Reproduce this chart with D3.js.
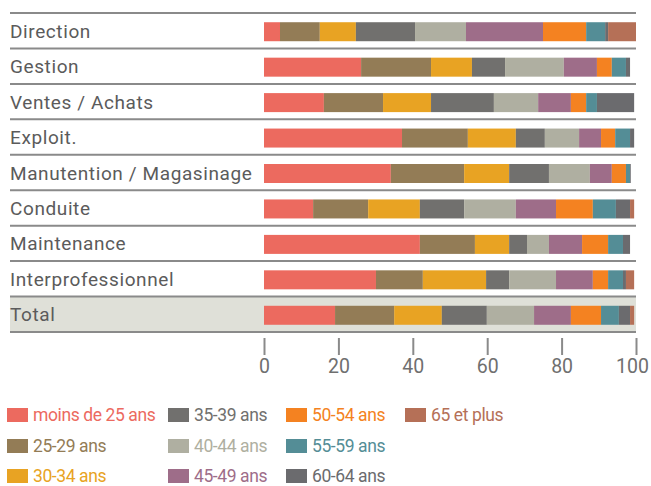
<!DOCTYPE html>
<html>
<head>
<meta charset="utf-8">
<script src="https://cdn.jsdelivr.net/npm/d3@7"></script>
<style>
  body { margin: 0; background: #fff; }
  text { font-family: Roboto, "Noto Sans", sans-serif; }
</style>
</head>
<body>
<div id="vis"></div>
<script>
const categories = ["Direction", "Gestion", "Ventes / Achats", "Exploit.", "Manutention / Magasinage",
  "Conduite", "Maintenance", "Interprofessionnel", "Total"];
const ageGroups = ["moins de 25 ans", "25-29 ans", "30-34 ans", "35-39 ans", "40-44 ans",
  "45-49 ans", "50-54 ans", "55-59 ans", "60-64 ans", "65 et plus"];
const colors = ["#ec6a5f", "#937c56", "#e8a323", "#71706e", "#afafa1",
  "#9e6d89", "#f48221", "#548d96", "#6b6b6e", "#b57057"];

// share of each age group per category (%)
const direction      = [4.3, 10.7, 9.7, 15.9, 13.7, 20.7, 11.6, 5.1, 0.8, 7.5];
const gestion        = [26.1, 18.8, 11.0, 8.9, 15.8, 8.9, 4.0, 3.8, 1.1, 0];
const ventes         = [16.1, 15.9, 12.9, 16.9, 11.9, 8.8, 4.1, 2.9, 10.0, 0];
const exploit        = [37.1, 17.7, 12.9, 7.8, 9.2, 5.9, 3.8, 4.0, 1.1, 0];
const manutention    = [34.1, 19.7, 12.1, 10.7, 11.0, 5.9, 3.8, 1.1, 0.2, 0];
const conduite       = [13.2, 14.8, 13.9, 11.9, 13.9, 10.8, 9.9, 6.2, 3.8, 1.1];
const maintenance    = [41.9, 14.8, 9.2, 4.8, 5.9, 8.9, 7.0, 4.0, 1.9, 0];
const interpro       = [30.1, 12.6, 17.0, 6.2, 12.6, 9.9, 4.1, 4.0, 0.8, 2.2];
const total          = [19.1, 15.9, 12.8, 12.1, 12.7, 9.9, 8.1, 4.8, 3.0, 1.1];
const seriesValues = [direction, gestion, ventes, exploit, manutention, conduite, maintenance, interpro, total];

const xTicks = [0, 20, 40, 60, 80, 100];

const width = 651, height = 486;

const svg = d3.select("#vis")
  .append("svg")
    .attr("width", width)
    .attr("height", height);

const x = d3.scaleLinear().domain([0, 100]).range([264, 636]);
const y = d3.scaleBand().domain(categories).range([13, 332]).padding(0);

const table = categories.map((c, i) => {
    const row = { category: c };
    ageGroups.forEach((g, j) => row[g] = seriesValues[i][j]);
    return row;
});
const stacked = d3.stack().keys(ageGroups)(table);

// total row background
svg.append("rect")
    .attr("x", 10)
    .attr("y", y("Total"))
    .attr("width", x(100) - 10)
    .attr("height", y.bandwidth())
    .attr("fill", "#dfe0d8");

// separator lines
const bounds = categories.map(c => y(c)).concat([y.range()[1]]);
svg.selectAll("line.sep")
  .data(bounds)
  .join("line")
    .attr("class", "sep")
    .attr("x1", 10)
    .attr("x2", x(100))
    .attr("y1", d => d)
    .attr("y2", d => d)
    .attr("stroke", "#8a8a8a")
    .attr("stroke-width", 2);

// category labels
svg.selectAll("text.cat")
  .data(categories)
  .join("text")
    .attr("class", "cat")
    .attr("x", 10)
    .attr("y", d => y(d) + y.bandwidth() / 2 + 7)
    .attr("fill", "#5b5b5b")
    .attr("font-size", 19)
    .attr("letter-spacing", 0.6)
    .text(d => d);

// bars
const barH = 19;
svg.append("g")
  .selectAll("g")
  .data(stacked)
  .join("g")
    .attr("fill", (d, i) => colors[i])
  .selectAll("rect")
  .data(d => d)
  .join("rect")
    .attr("x", d => x(d[0]))
    .attr("y", d => y(d.data.category) + y.bandwidth() / 2 - barH / 2 + 1)
    .attr("width", d => x(d[1]) - x(d[0]))
    .attr("height", barH);

// x axis
const axis = svg.append("g")
    .attr("transform", "translate(0, 338)")
    .call(d3.axisBottom(x).tickValues(xTicks).tickSize(17).tickPadding(4));
axis.select(".domain").remove();
axis.selectAll(".tick line").attr("stroke", "#8a8a8a").attr("stroke-width", 2);
axis.selectAll(".tick text")
    .attr("fill", "#6f6f6f")
    .attr("font-size", 19.5)
    .attr("font-family", "Roboto, sans-serif")
    .attr("dx", d => d === 100 ? -4 : 0);

// legend
const legendCols = [7, 168, 286, 405];
const legendRows = [415, 446, 476];
const legend = svg.append("g");
ageGroups.forEach((g, i) => {
    const col = Math.floor(i / 3), row = i % 3;
    const gx = legendCols[col], gy = legendRows[row];
    legend.append("rect")
        .attr("x", gx)
        .attr("y", gy - 7)
        .attr("width", 21)
        .attr("height", 14)
        .attr("fill", colors[i]);
    legend.append("text")
        .attr("x", gx + 26)
        .attr("y", gy + 6)
        .attr("font-size", 17.5)
        .attr("letter-spacing", -0.4)
        .attr("fill", colors[i])
        .text(g);
});
</script>
</body>
</html>
